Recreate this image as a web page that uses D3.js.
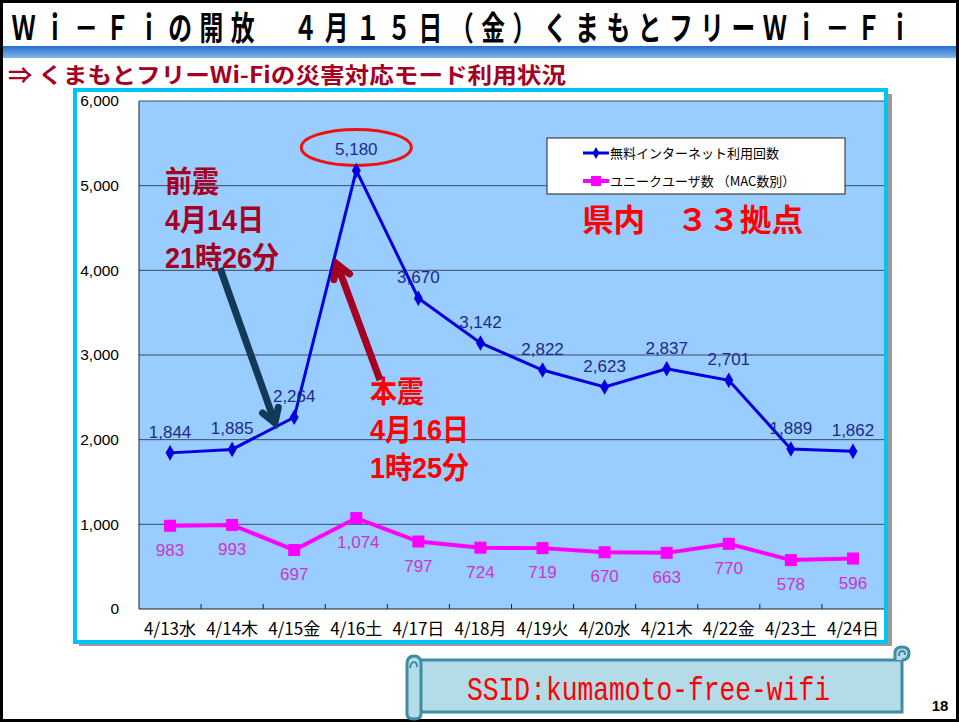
<!DOCTYPE html>
<html>
<head>
<meta charset="utf-8">
<script src="https://cdn.jsdelivr.net/npm/d3@7"></script>
<style>
  body { margin: 0; background: #fff; }
  svg { display: block; }
</style>
</head>
<body>
<svg id="chart" width="959" height="722" font-family="Noto Sans CJK JP, Noto Sans, sans-serif"></svg>
<script>
// data
const days = ["4/13水", "4/14木", "4/15金", "4/16土", "4/17日", "4/18月",
              "4/19火", "4/20水", "4/21木", "4/22金", "4/23土", "4/24日"];
const accessCount = [1844, 1885, 2264, 5180, 3670, 3142, 2822, 2623, 2837, 2701, 1889, 1862];
const uniqueUsers = [983, 993, 697, 1074, 797, 724, 719, 670, 663, 770, 578, 596];
const yTicks = [0, 1000, 2000, 3000, 4000, 5000, 6000];
const seriesNames = ["無料インターネット利用回数", "ユニークユーザ数 （MAC数別）"];

const svg = d3.select("#chart");
const fmt = d3.format(",");
const numFont = "Liberation Sans Narrow, Liberation Sans, Arial, sans-serif";

// slide frame + title
svg.append("rect").attr("x", 1.5).attr("y", 1.5).attr("width", 956).attr("height", 719)
  .attr("fill", "#fff").attr("stroke", "#000").attr("stroke-width", 3);

const grad = svg.append("defs").append("linearGradient").attr("id", "bar")
  .attr("x1", 0).attr("y1", 0).attr("x2", 0).attr("y2", 1);
grad.append("stop").attr("offset", 0).attr("stop-color", "#2a6ccf");
grad.append("stop").attr("offset", 1).attr("stop-color", "#7fb6ea");
svg.append("rect").attr("x", 3).attr("y", 46).attr("width", 953).attr("height", 12)
  .attr("fill", "url(#bar)");

// title: condensed glyphs on a wide pitch
const titleChars = Array.from("Ｗｉ－Ｆｉの開放　４月１５日（金）くまもとフリーＷｉ－Ｆｉ");
svg.append("g").selectAll("text").data(titleChars).join("text")
  .attr("transform", (d, i) => `translate(${8 + 31.3 * i + 15.6},40) scale(0.72,1)`)
  .attr("text-anchor", "middle").attr("font-size", 33).attr("font-weight", 700)
  .attr("fill", "#000").text(d => d);

svg.append("text").attr("x", 8).attr("y", 83)
  .attr("font-size", 22).attr("font-weight", 700).attr("fill", "#a50021")
  .attr("textLength", 558).attr("lengthAdjust", "spacingAndGlyphs")
  .text("⇒ くまもとフリーWi-Fiの災害対応モード利用状況");

// chart box with shadow
svg.append("rect").attr("x", 79).attr("y", 94).attr("width", 813).attr("height", 552)
  .attr("fill", "#9a9a9a");
svg.append("rect").attr("x", 75).attr("y", 90).attr("width", 811).attr("height", 552)
  .attr("fill", "#fff").attr("stroke", "#00c4f4").attr("stroke-width", 4);

const plot = { left: 139, right: 884, top: 101, bottom: 609 };

const x = d3.scaleBand().domain(days).range([plot.left, plot.right]);
const y = d3.scaleLinear().domain([0, 6000]).range([plot.bottom, plot.top]);
const cx = d => x(d) + x.bandwidth() / 2;

svg.append("rect").attr("x", plot.left).attr("y", plot.top)
  .attr("width", plot.right - plot.left).attr("height", plot.bottom - plot.top)
  .attr("fill", "#99ccff");

// gridlines
svg.append("g").selectAll("line").data(yTicks.filter(v => v > 0)).join("line")
  .attr("x1", plot.left).attr("x2", plot.right)
  .attr("y1", d => y(d)).attr("y2", d => y(d))
  .attr("stroke", "#3a4a66").attr("stroke-width", 1);

// y axis labels
const yAxis = svg.append("g").attr("transform", `translate(${plot.left},0)`)
  .call(d3.axisLeft(y).tickValues(yTicks).tickFormat(fmt).tickSize(0).tickPadding(20));
yAxis.select(".domain").remove();
yAxis.selectAll("text").attr("font-family", "Liberation Sans, Arial, sans-serif")
  .attr("font-size", 15.5).attr("fill", "#000");

// axis lines
svg.append("line").attr("x1", plot.left).attr("x2", plot.left)
  .attr("y1", plot.top).attr("y2", plot.bottom).attr("stroke", "#222");
svg.append("line").attr("x1", plot.left).attr("x2", plot.right)
  .attr("y1", plot.bottom).attr("y2", plot.bottom).attr("stroke", "#222");
svg.append("g").selectAll("line").data(days.slice(1)).join("line")
  .attr("x1", d => x(d)).attr("x2", d => x(d))
  .attr("y1", plot.bottom).attr("y2", plot.bottom - 5).attr("stroke", "#222");

const xAxis = svg.append("g").attr("transform", `translate(0,${plot.bottom})`)
  .call(d3.axisBottom(x).tickSize(0).tickPadding(14));
xAxis.select(".domain").remove();
xAxis.selectAll("text").attr("font-size", 17).attr("fill", "#000")
  .attr("font-family", "Noto Sans CJK JP, sans-serif");

// ellipse around the peak
svg.append("ellipse").attr("cx", cx(days[3])).attr("cy", y(5180) - 23)
  .attr("rx", 55).attr("ry", 18).attr("fill", "none")
  .attr("stroke", "#ee1111").attr("stroke-width", 3);

// series lines
const line = vals => d3.line().x((d, i) => cx(days[i])).y(d => y(d))(vals);

svg.append("path").attr("d", line(uniqueUsers)).attr("fill", "none")
  .attr("stroke", "#ff00ff").attr("stroke-width", 4);
svg.append("g").selectAll("rect").data(uniqueUsers).join("rect")
  .attr("x", (d, i) => cx(days[i]) - 6).attr("y", d => y(d) - 6)
  .attr("width", 12).attr("height", 12).attr("fill", "#ff00ff");

svg.append("path").attr("d", line(accessCount)).attr("fill", "none")
  .attr("stroke", "#0000dd").attr("stroke-width", 3);
svg.append("g").selectAll("path").data(accessCount).join("path")
  .attr("d", d3.symbol(d3.symbolDiamond, 70))
  .attr("transform", (d, i) => `translate(${cx(days[i])},${y(d)})`)
  .attr("fill", "#0000dd");

// value labels
svg.append("g").selectAll("text").data(accessCount).join("text")
  .attr("x", (d, i) => cx(days[i])).attr("y", d => y(d) - 15)
  .attr("text-anchor", "middle").attr("font-size", 17)
  .attr("font-family", numFont)
  .attr("fill", "#1c2a8c").text(d => fmt(d));
svg.append("g").selectAll("text").data(uniqueUsers).join("text")
  .attr("x", (d, i) => cx(days[i]) + (i === 3 ? 2 : 0))
  .attr("y", d => y(d) + 30)
  .attr("text-anchor", "middle").attr("font-size", 17)
  .attr("font-family", numFont)
  .attr("fill", "#cc33cc").text(d => fmt(d));

// legend
const lg = svg.append("g").attr("transform", "translate(547,138)");
lg.append("rect").attr("width", 298).attr("height", 56)
  .attr("fill", "#fff").attr("stroke", "#222");
const legendRows = [
  { name: seriesNames[0], color: "#0000dd", mark: "diamond", yy: 15 },
  { name: seriesNames[1], color: "#ff00ff", mark: "square", yy: 43 }
];
legendRows.forEach(r => {
  lg.append("line").attr("x1", 36).attr("x2", 62).attr("y1", r.yy).attr("y2", r.yy)
    .attr("stroke", r.color).attr("stroke-width", r.mark === "square" ? 4 : 3);
  if (r.mark === "square") {
    lg.append("rect").attr("x", 44).attr("y", r.yy - 5).attr("width", 10).attr("height", 10)
      .attr("fill", r.color);
  } else {
    lg.append("path").attr("d", d3.symbol(d3.symbolDiamond, 40))
      .attr("transform", `translate(49,${r.yy})`).attr("fill", r.color);
  }
  lg.append("text").attr("x", 63).attr("y", r.yy + 5).attr("font-size", 13)
    .attr("fill", "#000").text(r.name);
});

svg.append("text").attr("x", 582).attr("y", 231).attr("font-size", 31)
  .attr("font-weight", 700).attr("fill", "#ff0000")
  .attr("textLength", 221).attr("lengthAdjust", "spacingAndGlyphs")
  .text("県内　３３拠点");

// annotations, one text block each
const annA = ["前震", "4月14日", "21時26分"];
const annB = ["本震", "4月16日", "1時25分"];
function block(lines, tx, ty, color) {
  const t = svg.append("text")
    .attr("transform", `translate(${tx},${ty}) scale(0.9,1)`)
    .attr("font-family", "Liberation Sans, Noto Sans CJK JP, sans-serif")
    .attr("font-size", 30).attr("font-weight", 700).attr("fill", color);
  t.selectAll("tspan").data(lines).join("tspan")
    .attr("x", 0).attr("y", (d, i) => i * 38).text(d => d);
}
block(annA, 165, 192, "#a50021");
block(annB, 370, 402, "#ff0000");

function arrow(x1, y1, x2, y2, color, w) {
  const a = Math.atan2(y2 - y1, x2 - x1), h = 16, s = 0.55;
  svg.append("line").attr("x1", x1).attr("y1", y1)
    .attr("x2", x2 - Math.cos(a) * 3).attr("y2", y2 - Math.sin(a) * 3)
    .attr("stroke", color).attr("stroke-width", w);
  const p1 = [x2 - h * Math.cos(a - s), y2 - h * Math.sin(a - s)];
  const p2 = [x2 - h * Math.cos(a + s), y2 - h * Math.sin(a + s)];
  svg.append("path").attr("d", `M${p1}L${x2},${y2}L${p2}`)
    .attr("fill", "none").attr("stroke", color).attr("stroke-width", w)
    .attr("stroke-linejoin", "miter").attr("stroke-linecap", "round");
}
arrow(220, 268, 275, 423, "#123a58", 7);
arrow(380, 380, 337, 264, "#a50021", 7);

// SSID scroll banner
const sc = svg.append("g");
sc.append("path")
  .attr("d", "M414,660 H902 V712 H414 Z")
  .attr("fill", "#b4dce8").attr("stroke", "#3f8ca3").attr("stroke-width", 3);
sc.append("path")
  .attr("d", "M407,664 Q407,656 414,656 Q421,656 421,664 V714 Q421,719 414,719 Q407,719 407,714 Z")
  .attr("fill", "#b4dce8").attr("stroke", "#3f8ca3").attr("stroke-width", 3);
sc.append("path").attr("d", "M410,668 Q411,662 414,662 Q417,662 417,667")
  .attr("fill", "none").attr("stroke", "#3f8ca3").attr("stroke-width", 2);
sc.append("path")
  .attr("d", "M895,660 V653 Q895,647 902,647 Q909,647 909,653 Q909,660 902,660")
  .attr("fill", "#b4dce8").attr("stroke", "#3f8ca3").attr("stroke-width", 3);
sc.append("path").attr("d", "M899,656 Q899,651 902,651 Q905,651 905,655")
  .attr("fill", "none").attr("stroke", "#3f8ca3").attr("stroke-width", 2);
sc.append("text").attr("x", 467).attr("y", 700).attr("font-size", 33)
  .attr("font-family", "Liberation Mono, DejaVu Sans Mono, monospace")
  .attr("textLength", 363).attr("lengthAdjust", "spacingAndGlyphs")
  .attr("fill", "#ff0000").text("SSID:kumamoto-free-wifi");

svg.append("text").attr("x", 940).attr("y", 711).attr("text-anchor", "middle")
  .attr("font-size", 15).attr("font-weight", 700)
  .attr("font-family", "Liberation Sans, Arial, sans-serif").text("18");
</script>
</body>
</html>
